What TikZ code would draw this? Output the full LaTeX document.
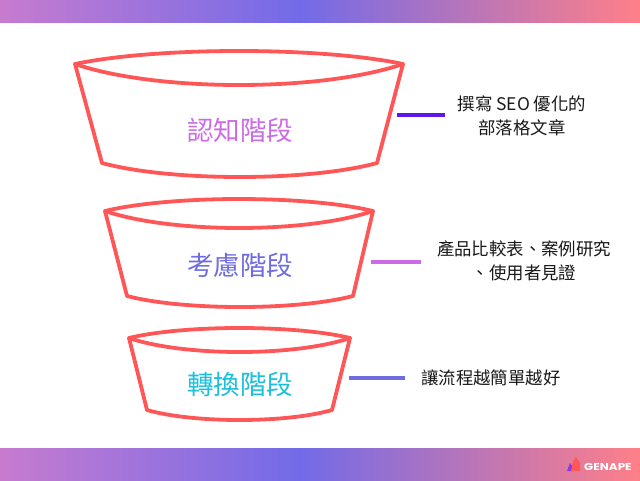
\documentclass[tikz,border=0pt]{standalone}
\usepackage{fontspec}
\newfontfamily\cjk{Noto Sans CJK TC}
\newfontfamily\latinf{Poppins}
\definecolor{funnelred}{HTML}{FF5757}
\definecolor{barL}{HTML}{C77BCF}
\definecolor{barM}{HTML}{726BE8}
\definecolor{barR}{HTML}{FF7F88}
\definecolor{cA}{HTML}{CB6CE6}
\definecolor{cB}{HTML}{6F6BE0}
\definecolor{cC}{HTML}{1CBFDC}
\definecolor{cD}{HTML}{5E17EB}
\tikzset{
  funnel/.style={draw=funnelred,line width=3.8pt,line join=round,fill=white},
  stage/.style={font=\cjk\fontsize{26.5}{28}\selectfont,inner sep=0pt},
  tip/.style={font=\cjk\fontsize{17.4}{24.5}\selectfont,inner sep=0pt,align=center,text=black!90},
  tick/.style={line width=3.6pt},
}
\newcommand{\funnelshape}[9]{%
  \draw[funnel] (#1,#3) .. controls ({#1+(#2-#1)/4},{#3+(#4-#3)*4/3}) and ({#2-(#2-#1)/4},{#3+(#4-#3)*4/3}) .. (#2,#3)
    -- (#7,#8) .. controls ({#7-(#7-#6)/4},{#8+(#9-#8)*4/3}) and ({#6+(#7-#6)/4},{#8+(#9-#8)*4/3}) .. (#6,#8) -- cycle;
  \draw[funnel,fill=none] (#1,#3) .. controls ({#1+(#2-#1)/4},{#3+(#5-#3)*4/3}) and ({#2-(#2-#1)/4},{#3+(#5-#3)*4/3}) .. (#2,#3);
}
\begin{document}
\begin{tikzpicture}[x=1pt,y=-1pt]
\useasboundingbox (0,0) rectangle (640,480);
\fill[white] (0,0) rectangle (640,480);
% bars
\shade[left color=barL,right color=barM] (0,0) rectangle (300,22);
\shade[left color=barM,right color=barR] (300,0) rectangle (640,22);
\shade[left color=barL,right color=barM] (0,448) rectangle (300,480);
\shade[left color=barM,right color=barR] (300,448) rectangle (640,480);
% funnels
\funnelshape{75}{403}{64}{51}{85}{102}{377}{163}{177}
\funnelshape{105}{373}{211}{199}{228}{127}{353}{296}{307}
\funnelshape{129}{350}{338}{328}{352}{147}{332}{410}{420}
% stage labels
\node[stage,text=cA] (s1) at (240,130) {認知階段};
\node[stage,text=cB] (s2) at (240,265) {考慮階段};
\node[stage,text=cC] (s3) at (240,384) {轉換階段};
% tips
\node[tip] (t1) at (522,116) {撰寫 SEO 優化的\\部落格文章};
\node[tip] (t2) at (524,261) {產品比較表、案例研究\\、使用者見證};
\node[tip,anchor=west] (t3) at (421,378) {讓流程越簡單越好};
% ticks
\coordinate (a1) at (397,115); \coordinate (b1) at (445,115);
\coordinate (a2) at (371,262); \coordinate (b2) at (421,262);
\coordinate (a3) at (349,378); \coordinate (b3) at (405,378);
\draw[tick,cD] (a1) -- (b1);
\draw[tick,cA] (a2) -- (b2);
\draw[tick,cB] (a3) -- (b3);
% logo
\fill[cD!60!cA] (567,471) -- (570,463) -- (573,467) -- (573,471) -- cycle;
\fill[funnelred] (571,471) -- (573,461) -- (576,457) -- (580,463) -- (580,471) -- cycle;
\node[font=\latinf\bfseries\fontsize{10}{10}\selectfont,text=white,inner sep=0pt,anchor=west,xscale=1.2] (logo) at (584,466.5) {GENAPE};
\end{tikzpicture}
\end{document}
